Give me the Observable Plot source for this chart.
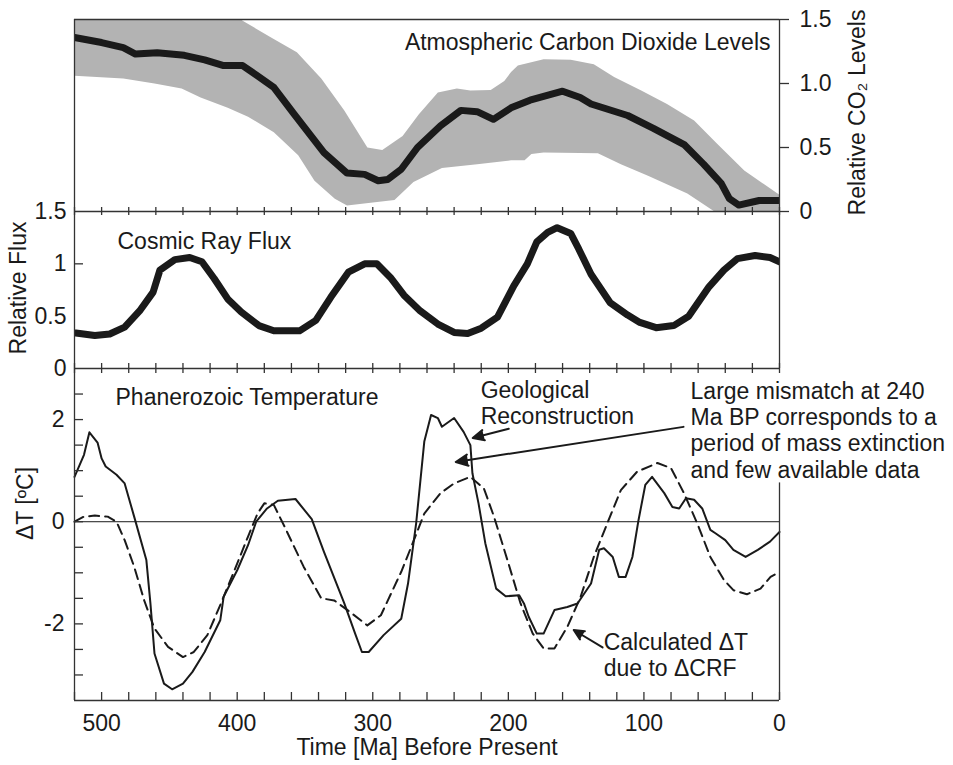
<!DOCTYPE html>
<html><head><meta charset="utf-8">
<script src="https://cdn.jsdelivr.net/npm/d3@7"></script>
<script src="https://cdn.jsdelivr.net/npm/@observablehq/plot@0.6"></script>
<style>
body{margin:0;background:#fff;}
#chart{position:relative;width:953px;height:765px;}
#chart svg{position:absolute;left:0;}
</style></head><body><div id="chart"></div>
<script>
// ---- data ----
const co2Ma  = [520, 500, 484, 475, 459, 439, 424, 410, 396, 385, 373, 358, 336, 319, 306, 296, 289, 279, 267, 250, 235, 223, 211, 198, 184, 160, 147, 139, 112, 93, 70, 56, 43, 37, 30, 15, 0];
const co2Val = [1.36, 1.32, 1.28, 1.23, 1.24, 1.22, 1.185, 1.14, 1.14, 1.06, 0.97, 0.76, 0.46, 0.30, 0.29, 0.24, 0.25, 0.33, 0.50, 0.67, 0.79, 0.78, 0.72, 0.81, 0.87, 0.94, 0.89, 0.84, 0.75, 0.65, 0.52, 0.37, 0.22, 0.10, 0.05, 0.086, 0.086];
const bandUpMa  = [520, 480, 440, 400, 396, 375, 356, 338, 321, 304, 293, 278, 266, 252, 238, 228, 213, 203, 198, 193, 174, 154, 137, 122, 102, 83, 63, 46, 26, 0];
const bandUpVal = [1.8, 1.72, 1.64, 1.54, 1.49, 1.36, 1.245, 1.04, 0.79, 0.50, 0.48, 0.59, 0.76, 0.93, 0.96, 0.945, 0.95, 1.02, 1.09, 1.14, 1.19, 1.185, 1.15, 1.05, 0.945, 0.84, 0.71, 0.53, 0.32, 0.13];
const bandLoMa  = [520, 484, 461, 441, 427, 407, 392, 373, 355, 343, 328, 319, 300, 284, 270, 249, 223, 198, 188, 183, 174, 134, 117, 97, 68, 48, 0];
const bandLoVal = [1.06, 1.04, 1.0, 0.96, 0.89, 0.81, 0.74, 0.62, 0.44, 0.24, 0.10, 0.047, 0.07, 0.09, 0.23, 0.34, 0.37, 0.40, 0.40, 0.45, 0.46, 0.455, 0.37, 0.28, 0.14, 0.0, 0.0];

const crfMa  = [519, 505, 494, 483, 472, 462, 457, 446, 435, 426, 417, 407, 397, 384, 373, 354, 342, 331, 318, 306, 297, 287, 277, 265, 252, 240, 230, 220, 208, 196, 186, 179, 171, 164, 154, 148, 139, 125, 112, 103, 91, 78, 67, 52, 41, 31, 18, 7, 0];
const crfVal = [0.34, 0.315, 0.33, 0.395, 0.55, 0.73, 0.94, 1.04, 1.06, 1.02, 0.86, 0.665, 0.54, 0.41, 0.36, 0.36, 0.46, 0.68, 0.92, 1.0, 1.0, 0.87, 0.70, 0.55, 0.425, 0.345, 0.335, 0.385, 0.49, 0.79, 1.0, 1.21, 1.30, 1.345, 1.29, 1.14, 0.90, 0.63, 0.51, 0.44, 0.39, 0.41, 0.50, 0.78, 0.94, 1.05, 1.08, 1.06, 1.02];

const geoMa  = [520, 513, 509, 503, 500, 497, 489, 483, 476, 467, 464, 461, 454, 448, 440, 433, 424, 412.5, 410, 400, 392, 386, 378, 370, 357, 345, 336, 321, 313, 308, 303, 292, 279, 274, 268, 262, 257, 252, 249, 240, 233, 228, 226.5, 222, 217, 209, 202, 192, 188.5, 185, 179, 174, 166, 156.5, 149, 139, 133, 129.5, 123, 118.5, 113.5, 108.5, 104, 99, 94, 85, 79, 74, 69, 63, 57, 51, 47, 40, 34, 25, 16, 7, 0];
const geoVal = [0.88, 1.31, 1.75, 1.55, 1.24, 1.08, 0.92, 0.75, 0.10, -0.75, -1.6, -2.58, -3.17, -3.28, -3.17, -2.94, -2.55, -1.93, -1.47, -0.95, -0.46, 0, 0.26, 0.41, 0.445, 0.05, -0.59, -1.6, -2.19, -2.55, -2.55, -2.22, -1.9, -1.21, -0.03, 1.57, 2.09, 2.03, 1.86, 2.03, 1.76, 1.50, 0.95, 0.36, -0.42, -1.31, -1.46, -1.44, -1.60, -1.86, -2.19, -2.19, -1.73, -1.67, -1.60, -1.21, -0.55, -0.52, -0.69, -1.08, -1.08, -0.69, 0.03, 0.72, 0.88, 0.56, 0.29, 0.26, 0.46, 0.43, 0.26, -0.16, -0.23, -0.36, -0.55, -0.69, -0.55, -0.39, -0.20];

const calcMa  = [520, 513, 505, 495.5, 489, 483, 476, 468.6, 461, 451, 440, 432, 422, 412, 402, 392, 385, 380, 373, 365, 351, 338, 328.5, 318.6, 304, 294, 279, 271, 262, 250, 240, 228, 218, 210.6, 200.7, 191, 182, 174, 166, 156.5, 146.7, 137, 127, 117, 105, 90, 80, 70.5, 60.7, 51, 41, 34, 24, 14, 6.6, 0];
const calcVal = [0, 0.10, 0.12, 0.10, 0, -0.36, -0.88, -1.54, -2.09, -2.45, -2.65, -2.55, -2.22, -1.60, -0.95, -0.29, 0.16, 0.36, 0.33, -0.10, -0.88, -1.50, -1.54, -1.73, -2.03, -1.83, -0.98, -0.45, 0.16, 0.56, 0.75, 0.88, 0.65, 0.10, -0.75, -1.60, -2.19, -2.48, -2.48, -2.06, -1.47, -0.69, -0.03, 0.62, 0.98, 1.15, 1.05, 0.56, -0.03, -0.69, -1.14, -1.34, -1.42, -1.31, -1.08, -0.98];

const tickMa = [520, 500, 480, 460, 440, 420, 400, 380, 360, 340, 320, 300, 280, 260, 240, 220, 200, 180, 160, 140, 120, 100, 80, 60, 40, 20, 0];
const timeLabels = [500, 400, 300, 200, 100, 0];
const co2Ticks = [0, 0.5, 1.0, 1.5];
const crfTicks = [0, 0.5, 1, 1.5];
const tempTicks = [2.5, 2, 1.5, 1, 0.5, 0, -0.5, -1, -1.5, -2, -2.5, -3];
const tempLabels = [2, 0, -2];

const arrowX1 = [199.7, 70.8, 130.5];
const arrowY1 = [1.82, 1.857, -2.46];
const arrowX2 = [226.3, 238.8, 151.8];
const arrowY2 = [1.64, 1.17, -2.12];

const notes = [
  {ma: 220.4, t: 2.33, text: "Geological\nReconstruction"},
  {ma: 65.6, t: 1.80, text: "Large mismatch at 240\nMa BP corresponds to a\nperiod of mass extinction\nand few available data"},
  {ma: 129.7, t: -2.60, text: "Calculated ΔT\ndue to ΔCRF"}
];

// ---- build tables ----
const zip = (a, b) => a.map((ma, i) => ({ma, v: b[i]}));
const co2 = zip(co2Ma, co2Val);
const band = zip(bandUpMa, bandUpVal).concat(zip(bandLoMa, bandLoVal).reverse());
const crf = zip(crfMa, crfVal);
const geo = zip(geoMa, geoVal);
const calc = zip(calcMa, calcVal);
const arrows = arrowX1.map((x1, i) => ({x1, y1: arrowY1[i], x2: arrowX2[i], y2: arrowY2[i]}));

const INK = "#1a1a1a";
const FONT = '"Liberation Sans", Arial, Helvetica, sans-serif';
const baseStyle = {fontFamily: FONT, fontSize: "23px", background: "transparent", overflow: "visible", color: INK};
const common = {width: 953, marginLeft: 74, marginRight: 174, style: baseStyle};
const xScale = {domain: [520, 0], axis: null};

// ---- top panel: CO2 ----
const topPlot = Plot.plot({
  ...common, height: 216, marginTop: 19, marginBottom: 5,
  x: xScale, y: {domain: [0, 1.5], axis: null},
  marks: [
    Plot.line(band, {x: "ma", y: "v", fill: "#b3b3b3", stroke: "none", clip: true, curve: "linear"}),
    Plot.line(co2, {x: "ma", y: "v", stroke: INK, strokeWidth: 7, strokeLinejoin: "round", clip: true}),
    Plot.ruleY([1.5], {stroke: "#333", strokeWidth: 1.3}),
    Plot.ruleX([520], {stroke: "#333", strokeWidth: 1.3}),
    Plot.ruleX([0], {stroke: "#333", strokeWidth: 1.3}),
    Plot.ruleY(co2Ticks, {y: d => d, x1: 0, x2: 0, insetRight: -10, stroke: "#333", strokeWidth: 1.3}),
    Plot.axisY(co2Ticks, {anchor: "right", tickSize: 0, tickPadding: 20, label: null, fontSize: 23,
      tickFormat: d => d === 0 ? "0" : d.toFixed(1)}),
    Plot.text(["Atmospheric Carbon Dioxide Levels"], {frameAnchor: "top-right", textAnchor: "end", lineAnchor: "middle", dx: -9, dy: 23, fontSize: 23}),
    Plot.text(["Relative CO₂ Levels"], {frameAnchor: "right", rotate: -90, dx: 78, dy: -3, textAnchor: "middle", lineAnchor: "middle", fontSize: 23})
  ]
});
topPlot.style.top = "0px";

// ---- middle panel: cosmic ray flux ----
const midPlot = Plot.plot({
  ...common, height: 182, marginTop: 20, marginBottom: 5,
  x: xScale, y: {domain: [0, 1.5], axis: null},
  marks: [
    Plot.line(crf, {x: "ma", y: "v", stroke: INK, strokeWidth: 7, strokeLinejoin: "round", clip: true}),
    Plot.ruleY([0, 1.5], {stroke: "#333", strokeWidth: 1.3}),
    Plot.ruleX([520, 0], {stroke: "#333", strokeWidth: 1.3}),
    Plot.ruleX(tickMa, {x: d => d, y1: 1.5, y2: 1.5, insetTop: -4, insetBottom: -4, stroke: "#333", strokeWidth: 1.3}),
    Plot.ruleX(tickMa, {x: d => d, y1: 0, y2: 0, insetTop: -5, insetBottom: -5, stroke: "#333", strokeWidth: 1.3}),
    Plot.ruleY([1], {y: d => d, x1: 520, x2: 520, insetRight: -9, stroke: "#333", strokeWidth: 1.3}),
    Plot.axisY(crfTicks, {anchor: "left", tickSize: 0, tickPadding: 8, label: null, fontSize: 23, tickFormat: d => String(d)}),
    Plot.text(["Cosmic Ray Flux"], {frameAnchor: "top-left", textAnchor: "start", lineAnchor: "middle", dx: 43, dy: 30, fontSize: 23}),
    Plot.text(["Relative Flux"], {frameAnchor: "left", rotate: -90, dx: -56, dy: -2, textAnchor: "middle", lineAnchor: "middle", fontSize: 23})
  ]
});
midPlot.style.top = "191px";

// ---- bottom panel: temperature ----
const botPlot = Plot.plot({
  ...common, height: 407, marginTop: 10, marginBottom: 65,
  x: xScale, y: {domain: [-3.5, 3], axis: null},
  marks: [
    Plot.ruleY([0], {stroke: INK, strokeWidth: 1}),
    Plot.line(calc, {x: "ma", y: "v", stroke: INK, strokeWidth: 2, strokeDasharray: "10,6"}),
    Plot.line(geo, {x: "ma", y: "v", stroke: INK, strokeWidth: 2}),
    Plot.ruleY([-3.5], {stroke: "#333", strokeWidth: 1.3}),
    Plot.ruleX([520], {stroke: "#333", strokeWidth: 1.3}),
    Plot.ruleX([0], {y1: -3.5, y2: 0.76, stroke: "#333", strokeWidth: 1.3}),
    Plot.ruleX(tickMa, {x: d => d, y1: -3.5, y2: -3.5, insetTop: -8, stroke: "#333", strokeWidth: 1.3}),
    Plot.ruleY(tempTicks, {y: d => d, x1: 520, x2: 520, insetRight: -9, stroke: "#333", strokeWidth: 1.3}),
    Plot.axisY(tempLabels, {anchor: "left", tickSize: 0, tickPadding: 10, label: null, fontSize: 23, tickFormat: d => String(d)}),
    Plot.axisX(timeLabels, {anchor: "bottom", tickSize: 0, tickPadding: 14, label: null, fontSize: 23, tickFormat: d => String(d)}),
    Plot.arrow(arrows, {x1: "x1", y1: "y1", x2: "x2", y2: "y2", stroke: INK, fill: INK, strokeWidth: 2, headLength: 10, headAngle: 50}),
    Plot.text(notes, {x: "ma", y: "t", text: "text", textAnchor: "start", lineAnchor: "middle", lineHeight: 1.15, fontSize: 23}),
    Plot.text(["Phanerozoic Temperature"], {frameAnchor: "top-left", textAnchor: "start", lineAnchor: "middle", dx: 41, dy: 29, fontSize: 23}),
    Plot.text(["ΔT [ºC]"], {frameAnchor: "left", rotate: -90, dx: -49, dy: -31, textAnchor: "middle", lineAnchor: "middle", fontSize: 23}),
    Plot.text(["Time [Ma] Before Present"], {frameAnchor: "bottom", dy: 47, textAnchor: "middle", lineAnchor: "middle", fontSize: 23})
  ]
});
botPlot.style.top = "358px";

const chart = document.getElementById("chart");
chart.append(topPlot, midPlot, botPlot);
</script>
</body></html>
